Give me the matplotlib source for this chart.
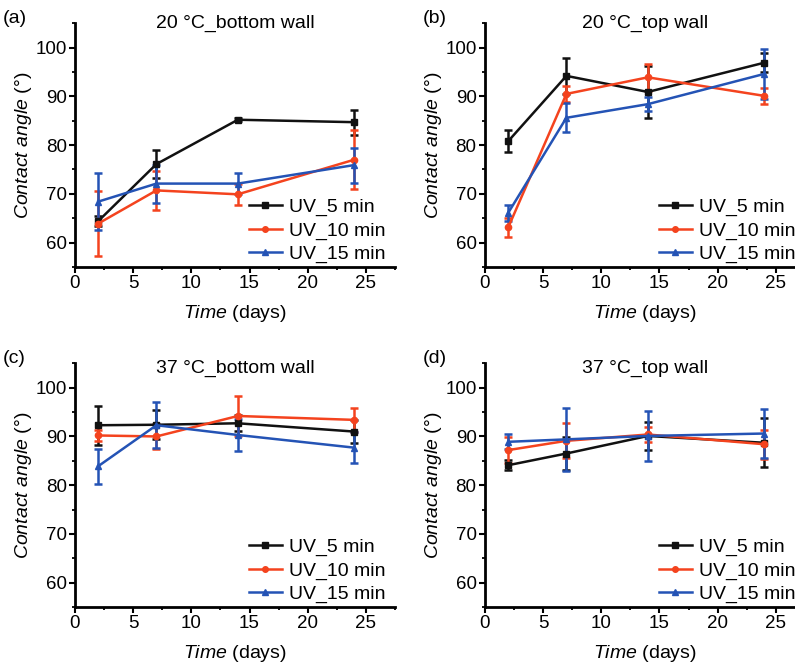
import numpy as np
import matplotlib
matplotlib.use('Agg')
import matplotlib.pyplot as plt
from matplotlib.ticker import MultipleLocator
from matplotlib.lines import Line2D

#### fonts ####
plt.rcParams['font.family'] = ['Liberation Sans', 'DejaVu Sans']
plt.rcParams['mathtext.fontset'] = 'custom'
plt.rcParams['mathtext.it'] = 'Liberation Sans:italic'
plt.rcParams['mathtext.rm'] = 'Liberation Sans'

#### data ####
days = [2, 7, 14, 24]
series_names = ['UV_5 min', 'UV_10 min', 'UV_15 min']
panel_labels = ['(a)', '(b)', '(c)', '(d)']
panel_titles = ['20 \u00b0C_bottom wall', '20 \u00b0C_top wall',
                '37 \u00b0C_bottom wall', '37 \u00b0C_top wall']

# (a) 20 C bottom wall
a_uv5 = [64.4, 76.1, 85.2, 84.7]
a_uv5_err = [1.0, 2.8, 0.3, 2.6]
a_uv10 = [63.9, 70.7, 69.9, 77.0]
a_uv10_err = [6.7, 4.0, 2.2, 6.0]
a_uv15 = [68.4, 72.1, 72.1, 75.9]
a_uv15_err = [5.8, 3.9, 2.1, 3.6]

# (b) 20 C top wall
b_uv5 = [80.8, 94.2, 90.9, 96.9]
b_uv5_err = [2.2, 3.7, 5.3, 1.9]
b_uv10 = [63.1, 90.5, 93.9, 90.1]
b_uv10_err = [2.0, 1.7, 2.8, 1.6]
b_uv15 = [66.1, 85.6, 88.4, 94.6]
b_uv15_err = [1.7, 3.0, 1.4, 5.1]

# (c) 37 C bottom wall
c_uv5 = [92.3, 92.4, 92.7, 91.0]
c_uv5_err = [4.0, 3.0, 1.6, 2.3]
c_uv10 = [90.2, 90.0, 94.2, 93.4]
c_uv10_err = [1.2, 2.5, 4.2, 2.5]
c_uv15 = [83.9, 92.3, 90.3, 87.7]
c_uv15_err = [3.6, 4.7, 3.2, 3.2]

# (d) 37 C top wall
d_uv5 = [84.1, 86.5, 90.1, 88.7]
d_uv5_err = [1.0, 3.4, 2.8, 5.0]
d_uv10 = [87.2, 89.1, 90.4, 88.4]
d_uv10_err = [2.6, 3.6, 1.5, 3.0]
d_uv15 = [88.9, 89.4, 90.1, 90.6]
d_uv15_err = [1.5, 6.4, 5.1, 5.1]

panels = [
    [(a_uv5, a_uv5_err), (a_uv10, a_uv10_err), (a_uv15, a_uv15_err)],
    [(b_uv5, b_uv5_err), (b_uv10, b_uv10_err), (b_uv15, b_uv15_err)],
    [(c_uv5, c_uv5_err), (c_uv10, c_uv10_err), (c_uv15, c_uv15_err)],
    [(d_uv5, d_uv5_err), (d_uv10, d_uv10_err), (d_uv15, d_uv15_err)],
]

colors = ['#111111', '#F4431E', '#2453B5']
markers = ['s', 'o', '^']

#### plot ####
fig = plt.figure(figsize=(7.95, 6.64), dpi=100)
# axes positions in figure fraction [left, bottom, width, height]
positions = [
    [0.0943, 0.598, 0.4025, 0.367],
    [0.610, 0.598, 0.4025, 0.367],
    [0.0943, 0.0858, 0.4025, 0.367],
    [0.610, 0.0858, 0.4025, 0.367],
]
label_pos = [(0.003, 0.972), (0.532, 0.972), (0.003, 0.46), (0.532, 0.46)]
title_y = [0.983, 0.983, 0.96, 0.96]

for i, pos in enumerate(positions):
    ax = fig.add_axes(pos)
    handles = []
    for j, (vals, errs) in enumerate(panels[i]):
        ax.errorbar(days, vals, yerr=errs, color=colors[j], marker=markers[j],
                    markersize=4.5, linewidth=1.8, elinewidth=1.8, capsize=3,
                    capthick=1.8)
        handles.append(Line2D([], [], color=colors[j], marker=markers[j],
                              markersize=4, linewidth=1.8,
                              label=series_names[j]))
    ax.set_xlim(0, 27.5)
    ax.set_ylim(55, 105)
    ax.xaxis.set_major_locator(MultipleLocator(5))
    ax.xaxis.set_minor_locator(MultipleLocator(2.5))
    ax.yaxis.set_minor_locator(MultipleLocator(5))
    ax.set_yticks([60, 70, 80, 90, 100])
    for s in ['top', 'right']:
        ax.spines[s].set_visible(False)
    for s in ['left', 'bottom']:
        ax.spines[s].set_linewidth(2)
    ax.tick_params(which='major', direction='out', length=4, width=1.5,
                   labelsize=13.5, pad=2)
    ax.tick_params(which='minor', direction='out', length=2.5, width=1.3)
    ax.set_xlabel(r'$\it{Time}$ (days)', fontsize=14, labelpad=8)
    ax.set_ylabel('$\\it{Contact\\ angle}$ (\u00b0)', fontsize=14, labelpad=1)
    ax.text(0.5, title_y[i], panel_titles[i], fontsize=14, ha='center',
            va='baseline', transform=ax.transAxes)
    ax.legend(handles=handles, loc='lower right', bbox_to_anchor=(1.0, -0.025),
              frameon=False, fontsize=14, handlelength=1.7,
              handletextpad=0.35, labelspacing=0.3, borderaxespad=0.1)
    fig.text(label_pos[i][0], label_pos[i][1], panel_labels[i], fontsize=14,
             va='center', ha='left')

plt.savefig('out.png', dpi=100)
